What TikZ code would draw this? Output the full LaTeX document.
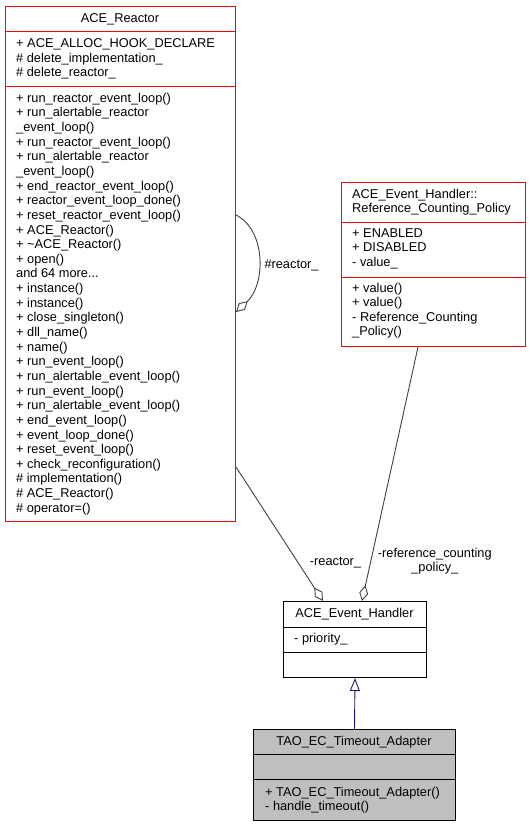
\documentclass[tikz,border=0pt]{standalone}
\usepackage{fontspec}
\setmainfont{Liberation Sans}
\usepackage{tikz}
\usetikzlibrary{arrows.meta,positioning,calc}
\definecolor{edgegray}{HTML}{404040}
\definecolor{inhblue}{HTML}{191970}
\definecolor{boxgray}{HTML}{BFBFBF}
\newcommand{\classfont}{\fontsize{12.8pt}{14.6pt}\selectfont}
\newcommand{\andmore}{and 64 more...}
\tikzstyle{cls}=[draw=black,line width=1pt,inner sep=0,anchor=north west]
\tikzstyle{refcls}=[cls,draw=red]
\tikzstyle{curcls}=[cls,fill=boxgray]
\tikzstyle{sep}=[draw=black,line width=1pt]
\tikzstyle{redsep}=[draw=red,line width=1pt]
\tikzstyle{mem}=[anchor=base west,inner sep=0]
\tikzstyle{ttl}=[anchor=base,inner sep=0]
\tikzstyle{agg}=[draw=edgegray,line width=0.9pt,-{Diamond[open,length=16pt,width=9pt]}]
\tikzstyle{inh}=[draw=inhblue,line width=0.9pt,-{Triangle[open,length=13pt,width=10pt]}]

\begin{document}
\begin{tikzpicture}[x=1pt,y=-1pt,every node/.style={font=\classfont}]
\useasboundingbox (0,0) rectangle (531,827);
\node[refcls,minimum width=230pt,minimum height=515pt] (reactor) at (5,6) {};
\draw[redsep] (5,31) -- (235,31);
\draw[redsep] (5,86) -- (235,86);
\node[ttl] (reactorT) at (120,22) {ACE\_Reactor};
\foreach \m [count=\i from 0] in {+ ACE\_ALLOC\_HOOK\_DECLARE,%
\# delete\_implementation\_,%
\# delete\_reactor\_}
\node[mem] (ra\i) at (16,47.5+\i*14.6) {\m};
\foreach \m [count=\i from 0] in {+ run\_reactor\_event\_loop(),%
+ run\_alertable\_reactor,%
\_event\_loop(),%
+ run\_reactor\_event\_loop(),%
+ run\_alertable\_reactor,%
\_event\_loop(),%
+ end\_reactor\_event\_loop(),%
+ reactor\_event\_loop\_done(),%
+ reset\_reactor\_event\_loop(),%
+ ACE\_Reactor(),%
+ \textasciitilde ACE\_Reactor(),%
+ open(),%
\andmore,%
+ instance(),%
+ instance(),%
+ close\_singleton(),%
+ dll\_name(),%
+ name(),%
+ run\_event\_loop(),%
+ run\_alertable\_event\_loop(),%
+ run\_event\_loop(),%
+ run\_alertable\_event\_loop(),%
+ end\_event\_loop(),%
+ event\_loop\_done(),%
+ reset\_event\_loop(),%
+ check\_reconfiguration(),%
\# implementation(),%
\# ACE\_Reactor(),%
\# operator=()}
\node[mem] (rm\i) at (16,102.3+\i*14.64) {\m};
\node[refcls,minimum width=184pt,minimum height=164pt] (policy) at (341,182) {};
\draw[redsep] (341,222) -- (525,222);
\draw[redsep] (341,277) -- (525,277);
\node[mem] (policyT1) at (352,198.3) {ACE\_Event\_Handler::};
\node[mem] (policyT2) at (352,212.7) {Reference\_Counting\_Policy};
\foreach \m [count=\i from 0] in {+ ENABLED,+ DISABLED,- value\_}
\node[mem] (pa\i) at (352,237+\i*14.5) {\m};
\foreach \m [count=\i from 0] in {+ value(),+ value(),- Reference\_Counting,\_Policy()}
\node[mem] (pm\i) at (352,292.3+\i*14.4) {\m};
\node[cls,minimum width=143pt,minimum height=76pt] (handler) at (283,601) {};
\draw[sep] (283,627) -- (426,627);
\draw[sep] (283,652) -- (426,652);
\node[ttl] (handlerT) at (354.5,617.3) {ACE\_Event\_Handler};
\node[mem] (ha0) at (294,642.3) {- priority\_};
\node[curcls,minimum width=202pt,minimum height=91pt] (tao) at (253,729) {};
\draw[sep] (253,754) -- (455,754);
\draw[sep] (253,779) -- (455,779);
\node[ttl] (taoT) at (354,745) {TAO\_EC\_Timeout\_Adapter};
\node[mem] (tm0) at (265,796) {+ TAO\_EC\_Timeout\_Adapter()};
\node[mem] (tm1) at (265,810.3) {- handle\_timeout()};
\draw[agg] (reactor.east |- 0,215) .. controls (266,230) and (266,284) .. (reactor.east |- 0,312);
\node[mem] (lself) at (264.3,268.3) {\#reactor\_};
\draw[agg] (reactor.east |- 0,467) -- (handler.north -| 323,0);
\node[ttl] (lreactor) at (335.5,565.7) {-reactor\_};
\draw[agg] (policy.south -| 418,0) -- (handler.north -| 362,0);
\node[align=center,inner sep=0] (lpolicy) at (434.8,561) {-reference\_counting\\\_policy\_};
\draw[inh] (tao.north) -- (handler.south);
\end{tikzpicture}
\end{document}
